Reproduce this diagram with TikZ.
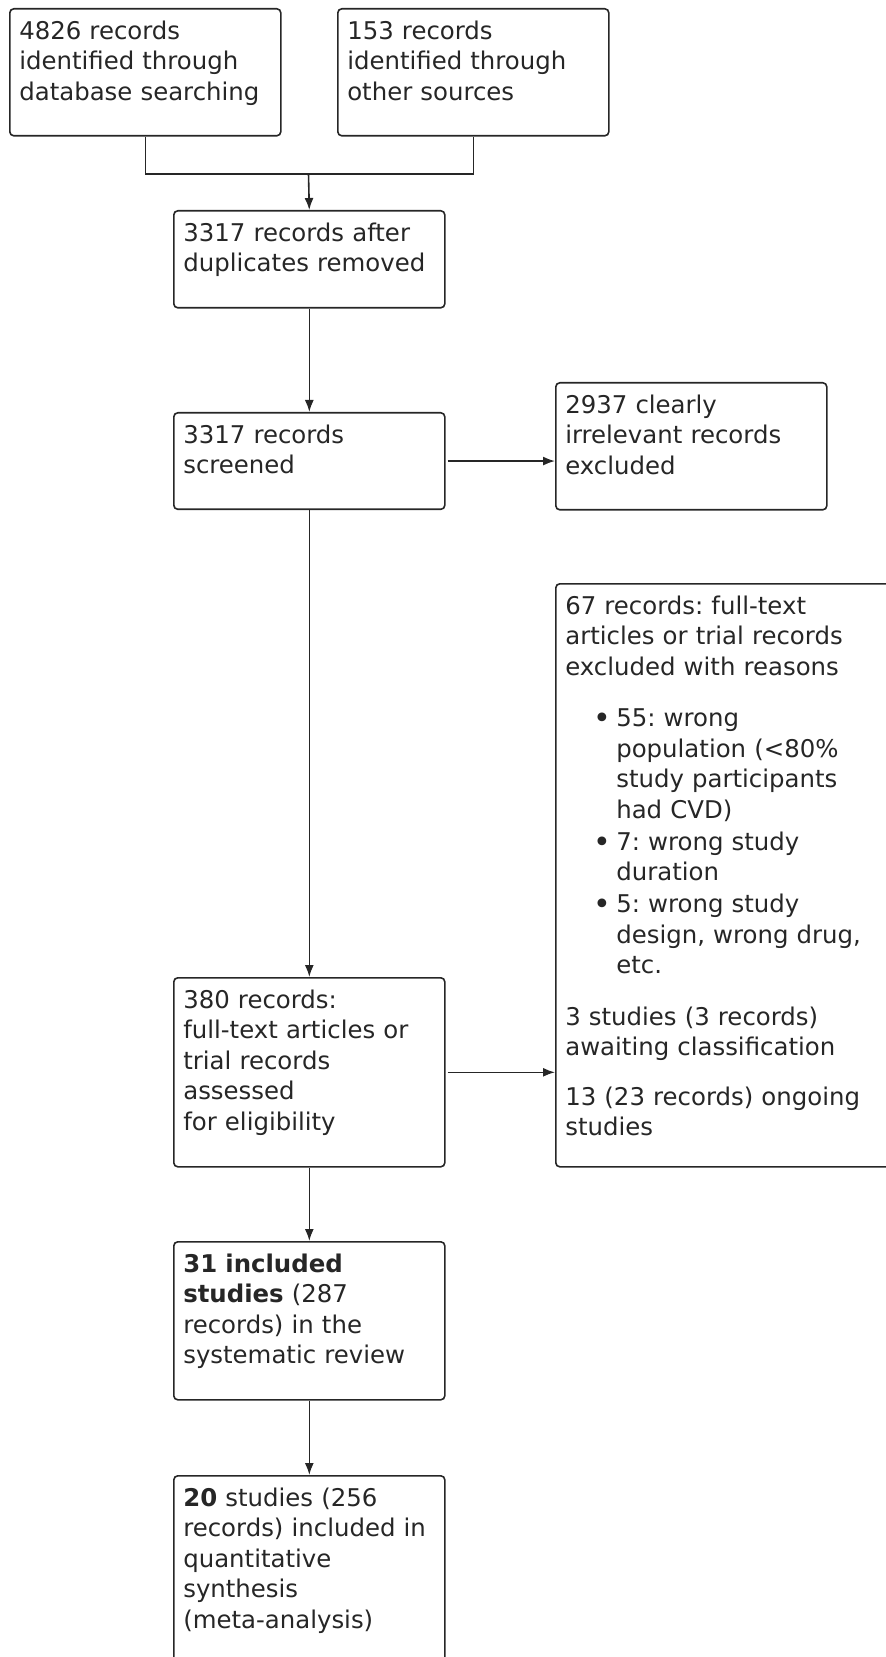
\documentclass[tikz,border=0pt]{standalone}
\usepackage{fontspec}
\setmainfont{DejaVu Sans}
\usetikzlibrary{arrows.meta}
\frenchspacing
\newcommand\bulletline[1]{\par{\leftskip=25.5pt\noindent\llap{\raisebox{-1pt}{\fontsize{15}{15}\selectfont\textbullet}\hspace{2.5pt}}#1\par}}
\begin{document}
\begin{tikzpicture}[x=0.5pt,y=-0.5pt,
    box/.style={draw=black!85,line width=0.8pt,rounded corners=2pt,anchor=north west,
      align=left,text width=126pt,inner xsep=4.75pt,inner ysep=5.25pt,text height=10pt,
      font=\fontsize{12.2}{15.25}\selectfont,text=black!85},
    arr/.style={draw=black!85,line width=0.8pt,-{Latex[length=6pt,width=4.5pt]}},
    link/.style={draw=black!85,line width=0.8pt}]
  \useasboundingbox (0,0) rectangle (885,1657);
  \node[box,text depth=43pt] (ident) at (9,8) {4826 records\\identified through\\database searching};
  \node[box,text depth=43pt] (other) at (337,8) {153 records\\identified through\\other sources};
  \node[box,text depth=28pt] (dedup) at (173,210) {3317 records after\\duplicates removed};
  \node[box,text depth=27.75pt] (screen) at (173,412) {3317 records\\screened};
  \node[box,text depth=43pt] (irrel) at (555,382) {2937 clearly\\irrelevant records\\excluded};
  \node[box,text width=160.5pt,text depth=271pt] (excl) at (555,583) {67 records: full-text\\articles or trial records\\excluded with reasons\par\vspace{10.5pt}
    \bulletline{55: wrong\\population (<80\%\\study participants\\had CVD)}\vspace{0.75pt}
    \bulletline{7: wrong study\\duration}\vspace{0.75pt}
    \bulletline{5: wrong study\\design, wrong drug,\\etc.}\vspace{10.5pt}
    3 studies (3 records)\\awaiting classification\par\vspace{9.5pt}
    13 (23 records) ongoing\\studies};
  \node[box,text depth=74pt] (fulltext) at (173,977) {380 records:\\full-text articles or\\trial records\\assessed\\for eligibility};
  \node[box,text depth=58.5pt] (incl) at (173,1241) {\textbf{31 included}\\\textbf{studies} (287\\records) in the\\systematic review};
  \node[box,text depth=120pt] (meta) at (173,1475) {\textbf{20} studies (256\\records) included in\\quantitative\\synthesis\\(meta-analysis)};
  \coordinate (merge) at (308.5,174);
  \draw[link] (ident.south) |- (merge) -| (other.south);
  \draw[arr] (merge) -- (dedup.north);
  \draw[arr] (dedup.south) -- (screen.north);
  \draw[arr,shorten <=1pt] (screen.east) -- (screen.east -| irrel.west);
  \draw[arr] (screen.south) -- (fulltext.north);
  \draw[arr,shorten <=1pt] (fulltext.east) -- (fulltext.east -| excl.west);
  \draw[arr] (fulltext.south) -- (incl.north);
  \draw[arr] (incl.south) -- (meta.north);
\end{tikzpicture}
\end{document}
